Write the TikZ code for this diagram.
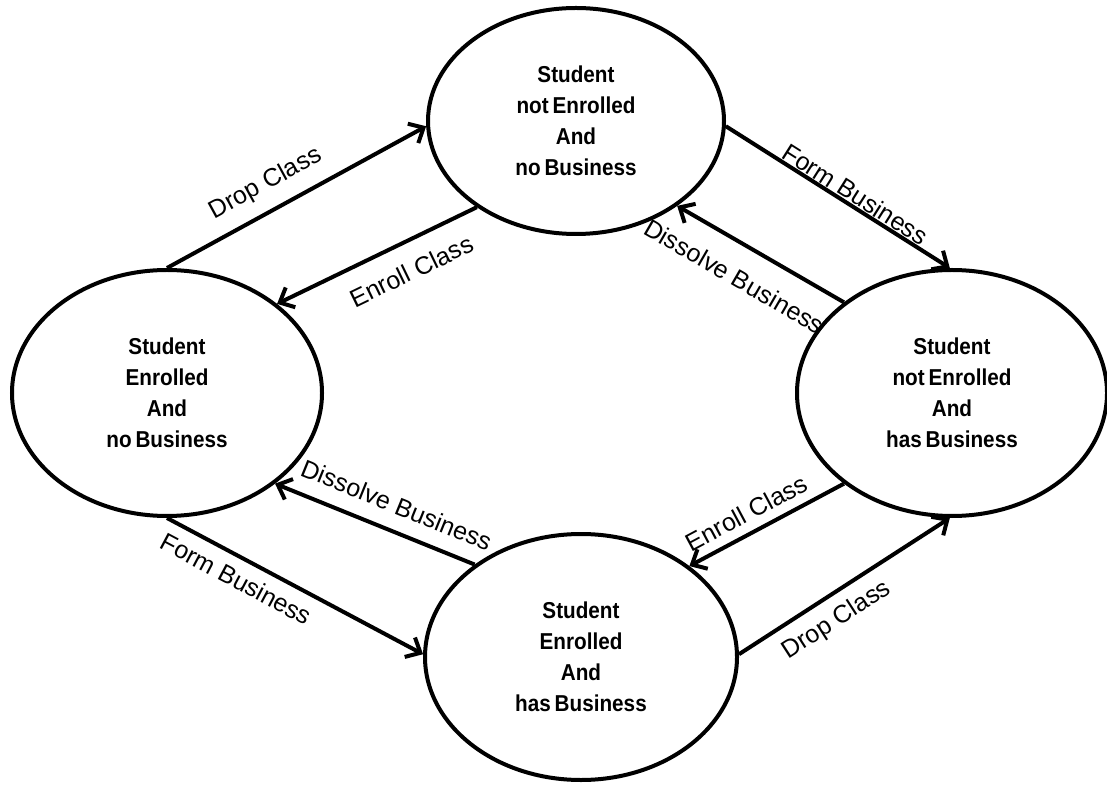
\documentclass[tikz,border=0pt]{standalone}
\usepackage{fontspec}
\setmainfont{Liberation Sans}
\newfontfamily\statefont[FakeStretch=0.9]{Liberation Sans}
\usetikzlibrary{arrows.meta,shapes.geometric}

\begin{document}
\begin{tikzpicture}[x=1pt,y=1pt,
    state/.style={draw,ellipse,line width=4pt,inner sep=0pt,align=center,
      font=\statefont\bfseries\fontsize{23}{31}\selectfont},
    trans/.style={line width=4pt,-{Straight Barb[length=12pt,width=22pt]}},
    lbl/.style={font=\fontsize{25}{28}\selectfont,sloped,inner sep=0pt,
      text height=18pt,text depth=5pt}]
  \useasboundingbox (0,0) rectangle (1107,785);

  %%%%% STATES %%%%%
  \node[state,minimum width=296,minimum height=226] (T) at (576,664)
    {Student\\not\,Enrolled\\And\\no\,Business};
  \node[state,minimum width=310,minimum height=246] (L) at (167,392)
    {Student\\Enrolled\\And\\no\,Business};
  \node[state,minimum width=310,minimum height=246] (R) at (952,392)
    {Student\\not\,Enrolled\\And\\has\,Business};
  \node[state,minimum width=312,minimum height=246] (B) at (581,128)
    {Student\\Enrolled\\And\\has\,Business};

  %%%%% TRANSITIONS %%%%%
  \draw[trans] (L.90) -- node[lbl,pos=0.43,above=13pt] {Drop Class} (T.182);
  \draw[trans] (T.221) -- node[lbl,pos=0.39,below=18pt] {Enroll Class} (L.39);

  \draw[trans] (T.-2) -- node[lbl,pos=0.55,above=-4pt] {Form Business} (R.91);
  \draw[trans] (R.140) -- node[lbl,pos=0.56,below=21pt] {Dissolve Business} (T.-40);

  \draw[trans] (B.139) -- node[lbl,pos=0.44,above=10pt] {Dissolve Business} (L.-40);
  \draw[trans] (L.270) -- node[lbl,pos=0.31,below=10pt] {Form Business} (B.179);

  \draw[trans] (R.220) -- node[lbl,pos=0.57,above=4pt] {Enroll Class} (B.40);
  \draw[trans] (B.1) -- node[lbl,pos=0.4,below=11pt] {Drop Class} (R.269);
\end{tikzpicture}
\end{document}
